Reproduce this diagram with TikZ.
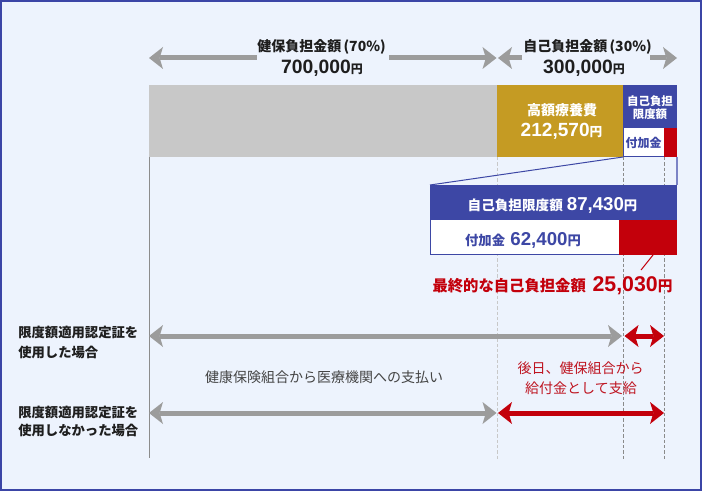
\documentclass[tikz,border=0pt]{standalone}
\usepackage{fontspec}
\setmainfont{Noto Sans CJK JP}
\newfontfamily\numfont{Liberation Sans}
\usetikzlibrary{arrows.meta}
\definecolor{bgblue}{HTML}{EDF3FD}
\definecolor{frameblue}{HTML}{3B45A6}
\definecolor{bargray}{HTML}{C8C8C8}
\definecolor{goldc}{HTML}{C59B23}
\definecolor{navyc}{HTML}{3D47A5}
\definecolor{lightnavy}{HTML}{7C84C6}
\definecolor{cred}{HTML}{C3000B}
\definecolor{arrgray}{HTML}{9C9C9C}
\definecolor{linegray}{HTML}{8C8C8C}
\definecolor{dashlight}{HTML}{C8C8C8}
\definecolor{dashdark}{HTML}{8A8A8A}
\definecolor{txtdark}{HTML}{1E1E1E}
\definecolor{txtgray}{HTML}{444444}
\definecolor{txtred}{HTML}{BE1420}
\newcommand\myamt[3]{{\numfont\bfseries\fontsize{#1}{#1}\selectfont #2}{\bfseries\fontsize{#3}{#3}\selectfont 円}}
\begin{document}
\begin{tikzpicture}[x=0.75pt,y=-0.75pt,
  >={Stealth[length=10.5pt,width=16.5pt,inset=2.5pt,line width=0pt]},
  garrow/.style={draw=arrgray,line width=3.75pt},
  rarrow/.style={draw=cred,line width=3.75pt},
  vsolid/.style={draw=linegray,line width=0.75pt},
  vdashlight/.style={draw=dashlight,line width=0.75pt,dash pattern=on 2.5pt off 1.5pt},
  vdashdark/.style={draw=dashdark,line width=0.75pt,dash pattern=on 2.5pt off 1.5pt},
  every node/.style={inner sep=0pt,anchor=base},
  toplbl/.style={font=\bfseries\fontsize{10.5}{12}\selectfont,text=txtdark},
  sidelbl/.style={font=\bfseries\fontsize{10}{12}\selectfont,text=txtdark,anchor=base west},
  boxlbl/.style={font=\bfseries\fontsize{10.5}{12}\selectfont,text=white},
  smalllbl/.style={font=\bfseries\fontsize{8.6}{10}\selectfont,text=white},
  midlbl/.style={font=\fontsize{10.5}{12}\selectfont,text=txtgray},
  redlbl/.style={font=\fontsize{10.5}{12}\selectfont,text=txtred}
]
% background and frame
\fill[bgblue] (0,0) rectangle (702,491);
\draw[frameblue,line width=1.5pt] (1,1) rectangle (701,490);
\useasboundingbox (0,0) rectangle (702,491);

% vertical guide lines
\coordinate (v0t) at (149,157); \coordinate (v0b) at (149,458);
\coordinate (v1t) at (497,157); \coordinate (v1b) at (497,461);
\coordinate (v2t) at (623,157); \coordinate (v2b) at (623,461);
\coordinate (v3t) at (664,157); \coordinate (v3b) at (664,461);
\draw[vsolid] (v0t) -- (v0b);
\draw[vdashlight] (v1t) -- (v1b);
\draw[vdashdark] (v2t) -- (v2b);
\draw[vdashdark] (v3t) -- (v3b);

% top labels and arrows
\node[toplbl] (hl1) at (321.5,52) {健保負担金額\,(70\%)};
\node[text=txtdark] (hl2) at (322,74) {\myamt{14.5}{700,000}{9}};
\node[toplbl] (hr1) at (587.5,52) {自己負担金額\,(30\%)};
\node[text=txtdark] (hr2) at (584,74) {\myamt{14.5}{300,000}{9}};
\coordinate (ta1) at (149,58); \coordinate (ta2) at (257,58);
\coordinate (ta3) at (389,58); \coordinate (ta4) at (496.5,58);
\coordinate (tb1) at (498,58); \coordinate (tb2) at (522,58);
\coordinate (tb3) at (650,58); \coordinate (tb4) at (677,58);
\draw[garrow,<-] (ta1) -- (ta2);
\draw[garrow,->] (ta3) -- (ta4);
\draw[garrow,<-] (tb1) -- (tb2);
\draw[garrow,->] (tb3) -- (tb4);

% main bar
\fill[bargray] (149,85) rectangle (497,157);
\fill[goldc] (497,85) rectangle (623,157);
\fill[navyc] (623,85) rectangle (677,128);
\filldraw[fill=white,draw=navyc,line width=0.75pt] (623.4,128) rectangle (664,156.6);
\fill[cred] (664,128) rectangle (677,157);
\node[boxlbl] (kg1) at (562,115.5) {高額療養費};
\node[text=white] (kg2) at (561.5,137) {\myamt{14.3}{212,570}{9.5}};
\node[smalllbl] (jl1) at (650,105.5) {自己負担};
\node[smalllbl] (jl2) at (650,118.5) {限度額};
\node[font=\bfseries\fontsize{9}{10}\selectfont,text=navyc] (fk1) at (643.5,147.5) {付加金};

% zoom lines
\coordinate (z1) at (623,157); \coordinate (z2) at (430,185);
\coordinate (z3) at (677,157); \coordinate (z4) at (677,185);
\draw[navyc,line width=0.75pt] (z1) -- (z2);
\draw[lightnavy,line width=1pt] (z3) -- (z4);

% detail boxes
\fill[navyc] (430,185) rectangle (677,220);
\filldraw[fill=white,draw=navyc,line width=0.75pt] (430.5,220) rectangle (619,254.5);
\fill[cred] (619,220) rectangle (677,255);
\node[text=white] (gl) at (552.5,210.5) {{\bfseries\fontsize{10.2}{12}\selectfont 自己負担限度額}\hspace{3pt}\myamt{14}{87,430}{10}};
\node[text=navyc] (fk2) at (523,245.5) {{\bfseries\fontsize{10}{12}\selectfont 付加金}\hspace{4pt}\myamt{14}{62,400}{10}};
\node[text=cred] (fin) at (552.5,291.5) {{\bfseries\fontsize{11.5}{13}\selectfont 最終的な自己負担金額}\hspace{5pt}\myamt{16}{25,030}{11}};
\coordinate (ld1) at (653,255); \coordinate (ld2) at (641,270);
\draw[cred,line width=0.75pt] (ld1) -- (ld2);

% side labels
\node[sidelbl] (s1a) at (18,337) {限度額適用認定証を};
\node[sidelbl] (s1b) at (18,357) {使用した場合};
\node[sidelbl] (s2a) at (18,417) {限度額適用認定証を};
\node[sidelbl] (s2b) at (18,435.5) {使用しなかった場合};

% bottom arrows
\coordinate (b1) at (149,336); \coordinate (b2) at (622,336);
\coordinate (b3) at (624.5,336); \coordinate (b4) at (664,336);
\coordinate (c1) at (149,413); \coordinate (c2) at (496.5,413);
\coordinate (c3) at (498,413); \coordinate (c4) at (664,413);
\draw[garrow,<->] (b1) -- (b2);
\draw[rarrow,<->] (b3) -- (b4);
\draw[garrow,<->] (c1) -- (c2);
\draw[rarrow,<->] (c3) -- (c4);

\node[midlbl] (mid) at (324,382) {健康保険組合から医療機関への支払い};
\node[redlbl] (r1) at (580.5,373.5) {後日、健保組合から};
\node[redlbl] (r2) at (581,393) {給付金として支給};
\end{tikzpicture}
\end{document}
